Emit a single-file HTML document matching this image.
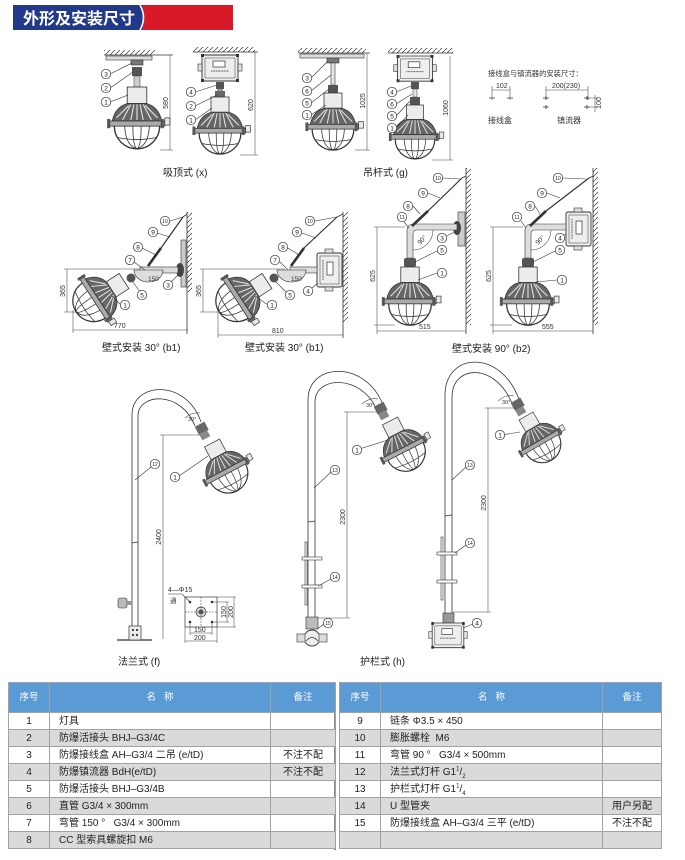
<!DOCTYPE html>
<html><head><meta charset="utf-8">
<style>
html,body{margin:0;padding:0;background:#fff;}
body{width:685px;height:860px;position:relative;overflow:hidden;font-family:"Liberation Sans","Noto Sans CJK SC",sans-serif;}
svg{position:absolute;left:0;top:0;}
.ln{stroke:#333;stroke-width:.8;fill:none}
.dm{stroke:#444;stroke-width:.55;fill:none}
.ld{stroke:#333;stroke-width:.6;fill:none}
.lb circle{fill:#fff;stroke:#333;stroke-width:.7}
.lb text{font-size:6.5px;text-anchor:middle;fill:#222;font-family:"Liberation Sans",sans-serif}
.lb text.s{font-size:5px}
.dt{font-size:7px;fill:#333;font-family:"Liberation Sans",sans-serif}
.cap{font-size:10px;fill:#222;font-family:"Liberation Sans","Noto Sans CJK SC",sans-serif}
table{position:absolute;border-collapse:collapse;table-layout:fixed;font-size:10px;color:#222;font-family:"Liberation Sans","Noto Sans CJK SC",sans-serif}
td,th{border:1px solid #a2a2a2;padding:0;height:16px;line-height:15px;white-space:nowrap;overflow:hidden}
th{background:#5b9bd5;color:#fff;font-weight:normal;height:29px;font-size:9.5px}
td.c{text-align:center}
td.n{padding-left:9px}
tr.g td{background:#dadada}
sup,sub{font-size:6px;line-height:0}
</style></head><body>
<svg width="685" height="860" viewBox="0 0 685 860" xmlns="http://www.w3.org/2000/svg">
<defs>
<pattern id="hc" width="5" height="5" patternUnits="userSpaceOnUse"><path d="M0 5 L5 0" stroke="#333" stroke-width=".7"/></pattern>
<g id="lamp">
 <rect x="-9.5" y="0" width="19" height="16" fill="#ececec" stroke="#333" stroke-width=".8"/>
 <path d="M-9 16 Q-21 19 -24 33 L24 33 Q21 19 9 16 Z" fill="#666" stroke="#333" stroke-width=".8"/>
 <path d="M-6 17 L-14 32 M-3 17 L-6 32 M0 17 L0 32 M3 17 L6 32 M6 17 L14 32 M-8 18 L-20 30 M8 18 L20 30" stroke="#e2e2e2" stroke-width="1.1"/>
 <rect x="-27" y="33" width="54" height="5" fill="#aaa" stroke="#333" stroke-width=".8"/>
 <rect x="27" y="30" width="5" height="7" fill="#e8e8e8" stroke="#333" stroke-width=".7"/>
 <rect x="-29" y="31" width="3" height="9" fill="#555"/>
 <rect x="23" y="31" width="3" height="9" fill="#555"/>
 <path d="M-22 38 A22 22 0 0 0 22 38" fill="none" stroke="#333" stroke-width="1.3"/>
 <path d="M-12 38 Q-11 57 0 60 Q11 57 12 38 M-4 38 Q-4 58 0 60 Q4 58 4 38 M-19 49 Q0 53 19 49" fill="none" stroke="#333" stroke-width=".8"/>
</g>
<g id="box">
 <rect x="-18" y="0" width="36" height="26" rx="2" fill="#eee" stroke="#333" stroke-width=".9"/>
 <rect x="-15" y="3" width="30" height="20" fill="none" stroke="#555" stroke-width=".6"/>
 <rect x="-7" y="6" width="12" height="6" fill="#fff" stroke="#333" stroke-width=".7"/>
 <path d="M-9 16 H9" stroke="#666" stroke-width="1.2" stroke-dasharray="1 .6"/>
 <rect x="-22" y="9" width="4" height="7" fill="#ddd" stroke="#333" stroke-width=".6"/>
 <rect x="18" y="9" width="4" height="7" fill="#ddd" stroke="#333" stroke-width=".6"/>
 <rect x="-19" y="-1" width="3" height="3" fill="#333"/><rect x="16" y="-1" width="3" height="3" fill="#333"/>
 <rect x="-19" y="24" width="3" height="3" fill="#333"/><rect x="16" y="24" width="3" height="3" fill="#333"/>
</g>
<g id="vbox">
 <rect x="0" y="0" width="25" height="34" rx="2" fill="#eee" stroke="#333" stroke-width=".9"/>
 <rect x="3" y="3" width="19" height="28" fill="none" stroke="#555" stroke-width=".6"/>
 <rect x="10" y="9" width="6" height="13" fill="#fff" stroke="#333" stroke-width=".7"/>
 <path d="M6 7 V27" stroke="#666" stroke-width="1.2" stroke-dasharray="1 .6"/>
 <rect x="8" y="-4" width="8" height="4" fill="#ddd" stroke="#333" stroke-width=".6"/>
 <rect x="8" y="34" width="8" height="4" fill="#ddd" stroke="#333" stroke-width=".6"/>
</g>
</defs>

<!-- Title bar -->
<rect x="13" y="5" width="130" height="25" fill="#22398a"/>
<rect x="143" y="5" width="90" height="25" fill="#d81a28"/>
<path d="M140 5 Q147 17.5 140 30" stroke="#fff" stroke-width="1.6" fill="none"/>
<text x="23" y="24" font-size="16" font-weight="bold" fill="#fff" style="font-family:'Noto Sans CJK SC',sans-serif">外形及安装尺寸</text>

<!-- ===== x1 ===== -->
<rect x="104" y="50" width="51" height="5" fill="url(#hc)"/>
<line x1="104" y1="55" x2="173" y2="55" class="ln"/>
<rect x="106" y="56" width="46" height="4" fill="#ddd" stroke="#333" stroke-width=".6"/>
<rect x="131" y="60" width="12" height="5" fill="#777" stroke="#333" stroke-width=".6"/>
<rect x="132" y="67" width="10" height="9" fill="#555"/>
<rect x="134" y="76" width="6" height="11" fill="#ccc" stroke="#333" stroke-width=".5"/>
<use href="#lamp" transform="translate(137,87) scale(1.03)"/>
<line x1="170" y1="55" x2="170" y2="150" class="dm"/>
<line x1="160" y1="150" x2="173" y2="150" class="dm"/>
<text class="dt" transform="translate(168,103) rotate(-90)" text-anchor="middle">580</text>
<path class="ld" d="M110 74 L132 63 M110 88 L133 72 M110 102 L128 95"/>
<g class="lb"><circle cx="106" cy="74" r="4.7"/><text x="106" y="76.3">3</text></g>
<g class="lb"><circle cx="106" cy="88" r="4.7"/><text x="106" y="90.3">2</text></g>
<g class="lb"><circle cx="106" cy="102" r="4.7"/><text x="106" y="104.3">1</text></g>

<!-- ===== x2 ===== -->
<rect x="193" y="47" width="62" height="5" fill="url(#hc)"/>
<line x1="193" y1="52" x2="258" y2="52" class="ln"/>
<use href="#box" transform="translate(220,55)"/>
<rect x="216" y="82" width="8" height="7" fill="#555"/>
<rect x="217" y="89" width="6" height="2" fill="#999"/>
<rect x="215" y="91" width="10" height="6" fill="#666"/>
<use href="#lamp" transform="translate(220,97) scale(.95)"/>
<line x1="255" y1="52" x2="255" y2="155" class="dm"/>
<line x1="240" y1="155" x2="258" y2="155" class="dm"/>
<text class="dt" transform="translate(253,105) rotate(-90)" text-anchor="middle">620</text>
<path class="ld" d="M195 92 L217 85 M195 106 L217 95 M195 120 L212 108"/>
<g class="lb"><circle cx="191" cy="92" r="4.7"/><text x="191" y="94.3">4</text></g>
<g class="lb"><circle cx="191" cy="106" r="4.7"/><text x="191" y="108.3">2</text></g>
<g class="lb"><circle cx="191" cy="120" r="4.7"/><text x="191" y="122.3">1</text></g>
<text class="cap" x="163" y="176">吸顶式 (x)</text>

<!-- ===== g1 ===== -->
<rect x="298" y="48" width="68" height="5" fill="url(#hc)"/>
<line x1="298" y1="53" x2="370" y2="53" class="ln"/>
<rect x="300" y="54" width="64" height="4" fill="#ddd" stroke="#333" stroke-width=".6"/>
<rect x="327" y="58" width="12" height="5" fill="#777" stroke="#333" stroke-width=".6"/>
<rect x="331" y="63" width="4" height="22" fill="#e5e5e5" stroke="#333" stroke-width=".6"/>
<rect x="328" y="85" width="10" height="8" fill="#555"/>
<use href="#lamp" transform="translate(333,93) scale(.95)"/>
<line x1="367" y1="53" x2="367" y2="150" class="dm"/>
<line x1="355" y1="150" x2="370" y2="150" class="dm"/>
<text class="dt" transform="translate(365,101) rotate(-90)" text-anchor="middle">1025</text>
<path class="ld" d="M311 78 L328 61 M311 91 L331 75 M311 103 L329 89 M311 115 L326 105"/>
<g class="lb"><circle cx="307" cy="78" r="4.7"/><text x="307" y="80.3">3</text></g>
<g class="lb"><circle cx="307" cy="91" r="4.7"/><text x="307" y="93.3">6</text></g>
<g class="lb"><circle cx="307" cy="103" r="4.7"/><text x="307" y="105.3">5</text></g>
<g class="lb"><circle cx="307" cy="115" r="4.7"/><text x="307" y="117.3">1</text></g>

<!-- ===== g2 ===== -->
<rect x="388" y="48" width="65" height="5" fill="url(#hc)"/>
<line x1="388" y1="53" x2="453" y2="53" class="ln"/>
<use href="#box" transform="translate(415,56) scale(.97)"/>
<rect x="411" y="82" width="8" height="7" fill="#555"/>
<rect x="413" y="89" width="4" height="8" fill="#e5e5e5" stroke="#333" stroke-width=".5"/>
<rect x="410" y="97" width="10" height="8" fill="#555"/>
<use href="#lamp" transform="translate(415,105) scale(.9)"/>
<line x1="450" y1="56" x2="450" y2="160" class="dm"/>
<line x1="432" y1="160" x2="453" y2="160" class="dm"/>
<text class="dt" transform="translate(448,108) rotate(-90)" text-anchor="middle">1060</text>
<path class="ld" d="M396 92 L411 86 M396 104 L412 94 M396 116 L410 101 M396 128 L408 115"/>
<g class="lb"><circle cx="392" cy="92" r="4.7"/><text x="392" y="94.3">4</text></g>
<g class="lb"><circle cx="392" cy="104" r="4.7"/><text x="392" y="106.3">6</text></g>
<g class="lb"><circle cx="392" cy="116" r="4.7"/><text x="392" y="118.3">5</text></g>
<g class="lb"><circle cx="392" cy="128" r="4.7"/><text x="392" y="130.3">1</text></g>
<text class="cap" x="363" y="176">吊杆式 (g)</text>

<!-- install sizes -->
<text x="488" y="76" font-size="7.3" fill="#333" style="font-family:'Liberation Sans','Noto Sans CJK SC',sans-serif">接线盒与镇流器的安装尺寸：</text>
<text class="dt" x="496" y="88">102</text>
<path class="dm" d="M492 90 H510 M492 86 V100 M510 86 V100"/>
<path class="ln" d="M489 98 H495 M507 98 H513" stroke-width=".9"/>
<text class="dt" x="552" y="88">200(230)</text>
<path class="dm" d="M546 90 H588 M546 86 V100 M588 86 V100"/>
<path class="ln" d="M543 98 H549 M546 96 V100 M584 98 H590 M587 96 V100 M543 107 H549 M546 105 V109 M584 107 H590 M587 105 V109" stroke-width=".9"/>
<path class="dm" d="M590 98 H598 M590 107 H598 M595 95 V112"/>
<text class="dt" transform="translate(601,103) rotate(-90)" text-anchor="middle" font-size="6">100</text>
<text x="488" y="123" font-size="8" fill="#333" style="font-family:'Noto Sans CJK SC',sans-serif">接线盒</text>
<text x="557" y="123" font-size="8" fill="#333" style="font-family:'Noto Sans CJK SC',sans-serif">镇流器</text>

<!-- ===== b1 left ===== -->
<rect x="187" y="212" width="5" height="80" fill="url(#hc)"/>
<line x1="187" y1="212" x2="187" y2="334" class="ln"/>
<rect x="181" y="240" width="5" height="47" fill="#ccc" stroke="#333" stroke-width=".6"/>
<ellipse cx="180" cy="270" rx="4" ry="7" fill="#444"/>
<rect x="140" y="267" width="38" height="6" fill="#ddd" stroke="#333" stroke-width=".6"/>
<path d="M134 270 A14.5 12 0 0 0 163 270 Z" fill="#ddd" stroke="#333" stroke-width=".6"/>
<text x="148" y="281" font-size="6.5" fill="#333">150</text>
<line x1="148" y1="266" x2="161" y2="248" stroke="#333" stroke-width="2.6"/>
<line x1="161" y1="248" x2="183" y2="217" stroke="#333" stroke-width="1.2"/>
<path class="ln" d="M183 217 L187 214"/>
<circle cx="131" cy="278" r="4.5" fill="#555"/>
<use href="#lamp" transform="translate(124,281) rotate(57) scale(.95)"/>
<path class="dm" d="M73 330 H188 M73 310 V333 M64 269 H140 M64 312 H78 M67 269 V312"/>
<text class="dt" x="114" y="328">770</text>
<text class="dt" transform="translate(65,291) rotate(-90)" text-anchor="middle">365</text>
<path class="ld" d="M170 221 L183 217 M157 233 L170 237 M142 248 L156 255 M134 262 L145 270 M171 282 L178 275 M140 292 L133 282 M121 305 L112 296"/>
<g class="lb"><circle cx="165" cy="221" r="4.7"/><text class="s" x="165" y="222.8">10</text></g>
<g class="lb"><circle cx="153" cy="232" r="4.7"/><text x="153" y="234.3">9</text></g>
<g class="lb"><circle cx="138" cy="247" r="4.7"/><text x="138" y="249.3">8</text></g>
<g class="lb"><circle cx="130" cy="260" r="4.7"/><text x="130" y="262.3">7</text></g>
<g class="lb"><circle cx="168" cy="285" r="4.7"/><text x="168" y="287.3">3</text></g>
<g class="lb"><circle cx="142" cy="295" r="4.7"/><text x="142" y="297.3">5</text></g>
<g class="lb"><circle cx="125" cy="305" r="4.7"/><text x="125" y="307.3">1</text></g>
<text class="cap" x="102" y="351">壁式安装 30° (b1)</text>

<!-- ===== b1 right ===== -->
<rect x="343" y="212" width="5" height="110" fill="url(#hc)"/>
<line x1="343" y1="212" x2="343" y2="338" class="ln"/>
<use href="#vbox" transform="translate(317,253)"/>
<rect x="290" y="267" width="27" height="6" fill="#ddd" stroke="#333" stroke-width=".6"/>
<path d="M277 270 A14.5 12 0 0 0 306 270 Z" fill="#ddd" stroke="#333" stroke-width=".6"/>
<text x="291" y="281" font-size="6.5" fill="#333">150</text>
<line x1="291" y1="266" x2="304" y2="248" stroke="#333" stroke-width="2.6"/>
<line x1="304" y1="248" x2="337" y2="217" stroke="#333" stroke-width="1.2"/>
<path class="ln" d="M337 217 L343 214"/>
<circle cx="274" cy="278" r="4.5" fill="#555"/>
<use href="#lamp" transform="translate(267,281) rotate(57) scale(.95)"/>
<path class="dm" d="M218 335 H343 M218 310 V338 M200 269 H285 M200 312 H220 M203 269 V312"/>
<text class="dt" x="272" y="333">810</text>
<text class="dt" transform="translate(201,291) rotate(-90)" text-anchor="middle">365</text>
<path class="ld" d="M315 221 L337 217 M302 233 L316 238 M288 248 L299 255 M280 262 L288 270 M312 288 L318 283 M286 292 L276 282 M268 305 L255 296"/>
<g class="lb"><circle cx="310" cy="221" r="4.7"/><text class="s" x="310" y="222.8">10</text></g>
<g class="lb"><circle cx="297" cy="232" r="4.7"/><text x="297" y="234.3">9</text></g>
<g class="lb"><circle cx="283" cy="247" r="4.7"/><text x="283" y="249.3">8</text></g>
<g class="lb"><circle cx="275" cy="260" r="4.7"/><text x="275" y="262.3">7</text></g>
<g class="lb"><circle cx="308" cy="291" r="4.7"/><text x="308" y="293.3">4</text></g>
<g class="lb"><circle cx="290" cy="295" r="4.7"/><text x="290" y="297.3">5</text></g>
<g class="lb"><circle cx="272" cy="305" r="4.7"/><text x="272" y="307.3">1</text></g>
<text class="cap" x="245" y="351">壁式安装 30° (b1)</text>

<!-- ===== b2 left ===== -->
<rect x="466" y="168" width="5" height="157" fill="url(#hc)"/>
<line x1="466" y1="168" x2="466" y2="334" class="ln"/>
<rect x="458" y="212" width="7" height="34" fill="#ccc" stroke="#333" stroke-width=".6"/>
<ellipse cx="457" cy="228" rx="4" ry="7" fill="#444"/>
<path d="M457 224 L414 224 Q407 224 407 231 L407 258 L413 258 L413 234 Q413 230 417 230 L457 230 Z" fill="#ddd" stroke="#333" stroke-width=".6"/>
<path class="dm" d="M433 230 A20 20 0 0 1 413 250"/>
<text transform="translate(420,245) rotate(-45)" font-size="6.5" fill="#333">90°</text>
<line x1="412" y1="226" x2="428" y2="211" stroke="#333" stroke-width="2.6"/>
<line x1="428" y1="211" x2="462" y2="178" stroke="#333" stroke-width="1.2"/>
<path class="ln" d="M462 178 L466 176"/>
<rect x="404" y="258" width="12" height="9" rx="2" fill="#555"/>
<use href="#lamp" transform="translate(410,267) scale(.97)"/>
<path class="dm" d="M374 227 H405 M374 325 H395 M377 227 V325 M377 325 V334 M377 331 H466"/>
<text class="dt" transform="translate(375,276) rotate(-90)" text-anchor="middle">625</text>
<text class="dt" x="419" y="329">515</text>
<path class="ld" d="M443 178 L460 179 M428 193 L440 198 M413 206 L420 214 M404 222 L409 228 M446 236 L455 232 M437 251 L415 262 M437 273 L418 280"/>
<g class="lb"><circle cx="438" cy="178" r="4.7"/><text class="s" x="438" y="179.8">10</text></g>
<g class="lb"><circle cx="423" cy="193" r="4.7"/><text x="423" y="195.3">9</text></g>
<g class="lb"><circle cx="408" cy="206" r="4.7"/><text x="408" y="208.3">8</text></g>
<g class="lb"><circle cx="402" cy="217" r="4.7"/><text class="s" x="402" y="218.8">11</text></g>
<g class="lb"><circle cx="442" cy="238" r="4.7"/><text x="442" y="240.3">3</text></g>
<g class="lb"><circle cx="442" cy="250" r="4.7"/><text x="442" y="252.3">5</text></g>
<g class="lb"><circle cx="442" cy="273" r="4.7"/><text x="442" y="275.3">1</text></g>

<!-- ===== b2 right ===== -->
<rect x="593" y="168" width="5" height="157" fill="url(#hc)"/>
<line x1="593" y1="168" x2="593" y2="334" class="ln"/>
<use href="#vbox" transform="translate(566,212)"/>
<path d="M566 224 L532 224 Q525 224 525 231 L525 258 L531 258 L531 234 Q531 230 535 230 L566 230 Z" fill="#ddd" stroke="#333" stroke-width=".6"/>
<path class="dm" d="M551 230 A20 20 0 0 1 531 250"/>
<text transform="translate(538,245) rotate(-45)" font-size="6.5" fill="#333">90°</text>
<line x1="530" y1="226" x2="546" y2="211" stroke="#333" stroke-width="2.6"/>
<line x1="546" y1="211" x2="589" y2="178" stroke="#333" stroke-width="1.2"/>
<path class="ln" d="M589 178 L593 176"/>
<rect x="522" y="258" width="12" height="9" rx="2" fill="#555"/>
<use href="#lamp" transform="translate(528,267) scale(.97)"/>
<path class="dm" d="M490 227 H523 M490 325 H512 M493 227 V325 M493 325 V334 M493 331 H593"/>
<text class="dt" transform="translate(491,276) rotate(-90)" text-anchor="middle">625</text>
<text class="dt" x="542" y="329">555</text>
<path class="ld" d="M563 178 L586 179 M547 193 L560 198 M535 206 L540 214 M521 221 L526 228 M556 238 L566 234 M555 251 L533 262 M557 280 L536 282"/>
<g class="lb"><circle cx="558" cy="178" r="4.7"/><text class="s" x="558" y="179.8">10</text></g>
<g class="lb"><circle cx="542" cy="193" r="4.7"/><text x="542" y="195.3">9</text></g>
<g class="lb"><circle cx="530" cy="206" r="4.7"/><text x="530" y="208.3">8</text></g>
<g class="lb"><circle cx="517" cy="217" r="4.7"/><text class="s" x="517" y="218.8">11</text></g>
<g class="lb"><circle cx="560" cy="238" r="4.7"/><text x="560" y="240.3">4</text></g>
<g class="lb"><circle cx="560" cy="250" r="4.7"/><text x="560" y="252.3">5</text></g>
<g class="lb"><circle cx="562" cy="280" r="4.7"/><text x="562" y="282.3">1</text></g>
<text class="cap" x="452" y="352">壁式安装 90° (b2)</text>

<!-- ===== flange pole f ===== -->
<path class="ln" d="M132 640 L132 415 C132 382 186 378 201 422"/>
<path class="ln" d="M138 640 L138 416 C138 393 181 390 195 426"/>
<path class="dm" d="M185 418 Q192 412 200 413"/>
<text x="188" y="421" font-size="5.5" fill="#333">30°</text>
<rect x="196" y="424" width="11" height="9" fill="#666" transform="rotate(-28 201 428)"/>
<rect x="200" y="432" width="9" height="7" fill="#888" transform="rotate(-28 204 435)"/>
<use href="#lamp" transform="translate(212,443) rotate(-28) scale(.9)"/>
<path class="dm" d="M160 435 H200 M163 435 V639"/>
<text class="dt" transform="translate(161,537) rotate(-90)" text-anchor="middle">2400</text>
<line x1="117" y1="640" x2="152" y2="640" stroke="#333" stroke-width="1.2"/>
<rect x="129" y="626" width="12" height="14" fill="#eee" stroke="#333" stroke-width=".7"/>
<circle cx="133" cy="630" r="1.1" fill="#333"/><circle cx="137" cy="630" r="1.1" fill="#333"/>
<circle cx="133" cy="635" r="1.1" fill="#333"/><circle cx="137" cy="635" r="1.1" fill="#333"/>
<rect x="118" y="598" width="9" height="10" rx="2" fill="#bbb" stroke="#333" stroke-width=".6"/>
<rect x="127" y="601" width="5" height="4" fill="#999"/>
<path class="ln" d="M132 543 L138 542"/>
<path class="ld" d="M151 467 L135 480 M179 476 L208 456"/>
<g class="lb"><circle cx="155" cy="464" r="4.7"/><text class="s" x="155" y="465.8">12</text></g>
<g class="lb"><circle cx="175" cy="477" r="4.7"/><text x="175" y="479.3">1</text></g>
<!-- flange detail -->
<rect x="185" y="597" width="32" height="30" fill="#fff" stroke="#333" stroke-width=".7"/>
<circle cx="201" cy="612" r="5" fill="#ddd" stroke="#333" stroke-width=".7"/>
<circle cx="201" cy="612" r="2.5" fill="#555"/>
<path class="dm" d="M185 612 H217 M201 597 V627" stroke-dasharray="2 1"/>
<circle cx="190" cy="602" r="1.3" fill="#333"/><circle cx="212" cy="602" r="1.3" fill="#333"/>
<circle cx="190" cy="622" r="1.3" fill="#333"/><circle cx="212" cy="622" r="1.3" fill="#333"/>
<path class="dm" d="M212 602 H229 M212 622 H229 M227 602 V622 M217 597 H236 M217 627 H236 M234 597 V627 M190 622 V635 M212 622 V635 M190 633 H212 M185 627 V643 M217 627 V643 M185 641 H217"/>
<text class="dt" transform="translate(226,612) rotate(-90)" text-anchor="middle" font-size="6.5">150</text>
<text class="dt" transform="translate(233,612) rotate(-90)" text-anchor="middle" font-size="6.5">200</text>
<text class="dt" x="194" y="632" font-size="6.5">150</text>
<text class="dt" x="194" y="640" font-size="6.5">200</text>
<text class="dt" x="168" y="592" font-size="6.5">4—Φ15</text>
<text x="170" y="603" font-size="6.5" fill="#333" style="font-family:'Noto Sans CJK SC',sans-serif">通</text>
<path class="ld" d="M168 594 H182 L190 602"/>
<text class="cap" x="118" y="665">法兰式 (f)</text>

<!-- ===== guardrail h1 ===== -->
<path class="ln" d="M308 617 L308 400 C308 362 366 360 383 405"/>
<path class="ln" d="M315 617 L315 402 C315 376 360 374 376 408"/>
<path class="dm" d="M362 404 Q370 397 378 399"/>
<text x="366" y="407" font-size="5.5" fill="#333">30°</text>
<rect x="375" y="404" width="11" height="9" fill="#666" transform="rotate(-27 380 408)"/>
<rect x="379" y="412" width="9" height="7" fill="#888" transform="rotate(-27 383 415)"/>
<use href="#lamp" transform="translate(390,421) rotate(-27) scale(.9)"/>
<path class="dm" d="M344 412 H378 M347 412 V618 M318 618 H350"/>
<text class="dt" transform="translate(345,517) rotate(-90)" text-anchor="middle">2300</text>
<path class="ln" d="M308 522 L315 521"/>
<rect x="305" y="542" width="2" height="63" fill="#fff" stroke="#333" stroke-width=".6"/>
<rect x="302" y="557" width="20" height="3" fill="#fff" stroke="#333" stroke-width=".6"/>
<rect x="302" y="585" width="20" height="3" fill="#fff" stroke="#333" stroke-width=".6"/>
<rect x="306" y="617" width="12" height="12" fill="#bbb" stroke="#333" stroke-width=".6"/>
<circle cx="312" cy="638" r="8" fill="#eee" stroke="#333" stroke-width=".9"/>
<path class="ln" d="M306 641 Q312 634 318 641"/>
<rect x="297" y="634" width="8" height="8" fill="#ddd" stroke="#333" stroke-width=".6"/>
<rect x="319" y="634" width="8" height="8" fill="#ddd" stroke="#333" stroke-width=".6"/>
<path class="ld" d="M331 472 L314 488 M331 579 L318 586 M324 624 L317 629 M353 451 L388 440"/>
<g class="lb"><circle cx="335" cy="470" r="4.7"/><text class="s" x="335" y="471.8">13</text></g>
<g class="lb"><circle cx="335" cy="577" r="4.7"/><text class="s" x="335" y="578.8">14</text></g>
<g class="lb"><circle cx="328" cy="623" r="4.7"/><text class="s" x="328" y="624.8">15</text></g>
<g class="lb"><circle cx="357" cy="450" r="4.7"/><text x="357" y="452.3">1</text></g>

<!-- ===== guardrail h2 ===== -->
<path class="ln" d="M445 613 L445 395 C445 352 502 348 520 402"/>
<path class="ln" d="M452 613 L452 397 C452 364 497 362 513 406"/>
<path class="dm" d="M498 401 Q506 394 514 396"/>
<text x="502" y="404" font-size="5.5" fill="#333">30°</text>
<rect x="512" y="400" width="11" height="9" fill="#666" transform="rotate(-30 517 404)"/>
<rect x="516" y="408" width="9" height="7" fill="#888" transform="rotate(-30 520 411)"/>
<use href="#lamp" transform="translate(526,416) rotate(-30) scale(.85)"/>
<path class="dm" d="M485 408 H515 M488 408 V612 M453 612 H491"/>
<text class="dt" transform="translate(486,503) rotate(-90)" text-anchor="middle">2300</text>
<path class="ln" d="M445 516 L452 515"/>
<rect x="441" y="537" width="2" height="63" fill="#fff" stroke="#333" stroke-width=".6"/>
<rect x="437" y="552" width="20" height="3" fill="#fff" stroke="#333" stroke-width=".6"/>
<rect x="437" y="580" width="20" height="3" fill="#fff" stroke="#333" stroke-width=".6"/>
<rect x="443" y="613" width="11" height="10" fill="#999" stroke="#333" stroke-width=".6"/>
<use href="#box" transform="translate(448,623) scale(.88 .95)"/>
<path class="ld" d="M466 467 L452 480 M466 545 L455 553 M473 624 L463 628 M496 436 L520 432"/>
<g class="lb"><circle cx="470" cy="465" r="4.7"/><text class="s" x="470" y="466.8">13</text></g>
<g class="lb"><circle cx="470" cy="543" r="4.7"/><text class="s" x="470" y="544.8">14</text></g>
<g class="lb"><circle cx="477" cy="623" r="4.7"/><text x="477" y="625.3">4</text></g>
<g class="lb"><circle cx="500" cy="435" r="4.7"/><text x="500" y="437.3">1</text></g>
<text class="cap" x="360" y="665">护栏式 (h)</text>

<line x1="335" y1="712" x2="335" y2="850" stroke="#111" stroke-width="1"/>
</svg>

<table style="left:8px;top:682px;width:327px;">
<colgroup><col style="width:41px"><col style="width:221px"><col style="width:65px"></colgroup>
<tr><th>序号</th><th>名&nbsp;&nbsp;&nbsp;称</th><th>备注</th></tr>
<tr><td class="c">1</td><td class="n">灯具</td><td></td></tr>
<tr class="g"><td class="c">2</td><td class="n">防爆活接头 BHJ–G3/4C</td><td></td></tr>
<tr><td class="c">3</td><td class="n">防爆接线盒 AH–G3/4 二吊 (e/tD)</td><td class="c">不注不配</td></tr>
<tr class="g"><td class="c">4</td><td class="n">防爆镇流器 BdH(e/tD)</td><td class="c">不注不配</td></tr>
<tr><td class="c">5</td><td class="n">防爆活接头 BHJ–G3/4B</td><td></td></tr>
<tr class="g"><td class="c">6</td><td class="n">直管 G3/4 × 300mm</td><td></td></tr>
<tr><td class="c">7</td><td class="n">弯管 150 °&nbsp;&nbsp; G3/4 × 300mm</td><td></td></tr>
<tr class="g"><td class="c">8</td><td class="n">CC 型索具螺旋扣 M6</td><td></td></tr>
</table>

<table style="left:339px;top:682px;width:322px;">
<colgroup><col style="width:41px"><col style="width:222px"><col style="width:59px"></colgroup>
<tr><th>序号</th><th>名&nbsp;&nbsp;&nbsp;称</th><th>备注</th></tr>
<tr><td class="c">9</td><td class="n">链条 Φ3.5 × 450</td><td></td></tr>
<tr class="g"><td class="c">10</td><td class="n">膨胀螺栓&nbsp; M6</td><td></td></tr>
<tr><td class="c">11</td><td class="n">弯管 90 °&nbsp;&nbsp; G3/4 × 500mm</td><td></td></tr>
<tr class="g"><td class="c">12</td><td class="n">法兰式灯杆 G1<sup>1</sup>/<sub>2</sub></td><td></td></tr>
<tr><td class="c">13</td><td class="n">护栏式灯杆 G1<sup>1</sup>/<sub>4</sub></td><td></td></tr>
<tr class="g"><td class="c">14</td><td class="n">U 型管夹</td><td class="c">用户另配</td></tr>
<tr><td class="c">15</td><td class="n">防爆接线盒 AH–G3/4 三平 (e/tD)</td><td class="c">不注不配</td></tr>
<tr class="g"><td class="c">&nbsp;</td><td class="n">&nbsp;</td><td></td></tr>
</table>
</body></html>
